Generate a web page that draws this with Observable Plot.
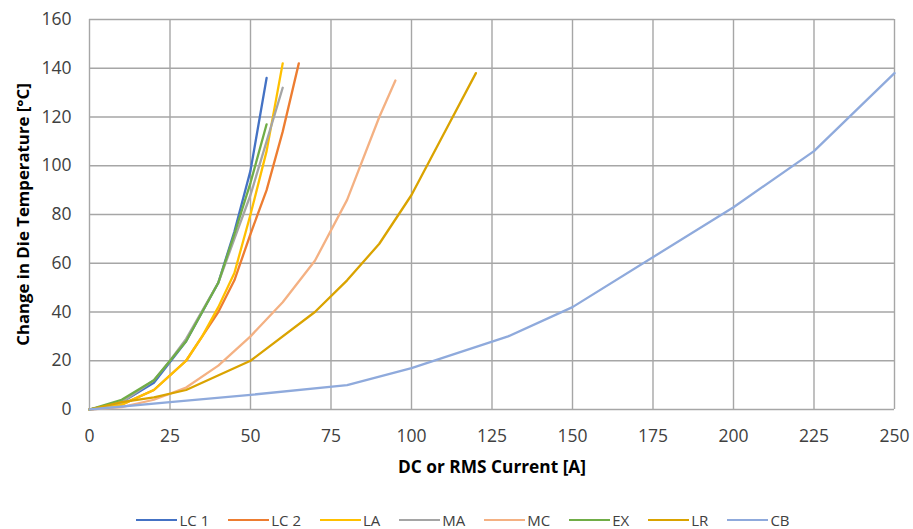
<!DOCTYPE html>
<html><head><meta charset="utf-8">
<script src="https://cdn.jsdelivr.net/npm/d3@7"></script>
<script src="https://cdn.jsdelivr.net/npm/@observablehq/plot@0.6"></script>
<style>
body{margin:0;background:#fff;font-family:"Open Sans",sans-serif;}
#chart svg{display:block;}
g[aria-label="x-axis tick label"] text, g[aria-label="y-axis tick label"] text{font-size:17.5px;fill:#404040;}
g[aria-label="x-axis label"] text{font-size:17.3px;font-weight:bold;fill:#000;}
g[aria-label="y-axis label"] text{font-size:16.8px;font-weight:bold;fill:#000;}
#legend{display:flex;justify-content:center;align-items:center;height:18px;margin-top:31px;padding-left:32px;font-size:15px;color:#404040;}
.item{display:flex;align-items:center;margin-right:19px;}
.sw{width:41px;height:2.5px;margin-right:2px;}
</style>
</head><body>
<div id="chart"></div>
<div id="legend"></div>
<script>
// Series names and colours (legend order)
const seriesNames = ["LC 1","LC 2","LA","MA","MC","EX","LR","CB"];
const seriesColors = ["#4472C4","#ED7D31","#FFC000","#A5A5A5","#F4B183","#70AD47","#DAA300","#8FAADC"];

// Current [A] and temperature change [°C] per series
const lc1X = [0,10,20,30,40,45,50,55];
const lc1Y = [0,3,11,28,52,73,98,136];
const lc2X = [0,10,20,30,35,40,45,50,55,60,65];
const lc2Y = [0,2,8,20,30,40,53,72,90,114,142];
const laX  = [0,10,20,25,30,35,40,45,50,55,60];
const laY  = [0,2,8,14,20,30,42,56,80,106,142];
const maX  = [0,10,20,25,30,40,45,50,55,60];
const maY  = [0,3,12,20,29,52,70,88,110,132];
const mcX  = [0,10,20,30,40,50,60,70,80,90,95];
const mcY  = [0,1,4,9,18,30,44,61,86,120,135];
const exX  = [0,10,20,30,40,45,50,55];
const exY  = [0,4,12,28,52,72,93,117];
const lrX  = [0,10,20,30,50,70,80,90,100,110,120];
const lrY  = [0,3,5,8,20,40,53,68,88,113,138];
const cbX  = [0,25,50,80,100,130,150,200,225,250];
const cbY  = [0,3,6,10,17,30,42,83,106,138];

const xTicks = [0,25,50,75,100,125,150,175,200,225,250];
const yTicks = [0,20,40,60,80,100,120,140,160];

const seriesXs = [lc1X,lc2X,laX,maX,mcX,exX,lrX,cbX];
const seriesYs = [lc1Y,lc2Y,laY,maY,mcY,exY,lrY,cbY];
const rows = [];
seriesNames.forEach((name,i)=>{
  seriesXs[i].forEach((x,j)=>rows.push({series:name, x, y:seriesYs[i][j]}));
});

const gridColor = "#A6A6A6";
const chart = Plot.plot({
  width: 913,
  height: 480,
  marginTop: 19,
  marginBottom: 71,
  marginLeft: 89,
  marginRight: 19,
  style: {fontFamily: '"Open Sans", sans-serif', background: "#fff"},
  x: {domain: [0,250]},
  y: {domain: [0,160]},
  color: {domain: seriesNames, range: seriesColors},
  marks: [
    Plot.gridX(xTicks, {stroke: gridColor, strokeOpacity: 1, strokeWidth: 1.4}),
    Plot.gridY(yTicks, {stroke: gridColor, strokeOpacity: 1, strokeWidth: 1.4}),
    Plot.axisX(xTicks, {tickSize: 0, tickPadding: 20, label: "DC or RMS Current [A]", labelAnchor: "center", labelArrow: "none", labelOffset: 63}),
    Plot.axisY(yTicks, {tickSize: 0, tickPadding: 18, label: "Change in Die Temperature [°C]", labelAnchor: "center", labelArrow: "none", labelOffset: 72}),
    Plot.line(rows, {x: "x", y: "y", z: "series", stroke: "series", strokeWidth: 2.3, curve: "linear"})
  ]
});
document.getElementById("chart").appendChild(chart);

const legend = document.getElementById("legend");
seriesNames.forEach((name,i)=>{
  const it = document.createElement("div"); it.className = "item";
  const sw = document.createElement("div"); sw.className = "sw"; sw.style.background = seriesColors[i];
  const lb = document.createElement("span"); lb.textContent = name;
  it.appendChild(sw); it.appendChild(lb); legend.appendChild(it);
});
</script>
</body></html>
